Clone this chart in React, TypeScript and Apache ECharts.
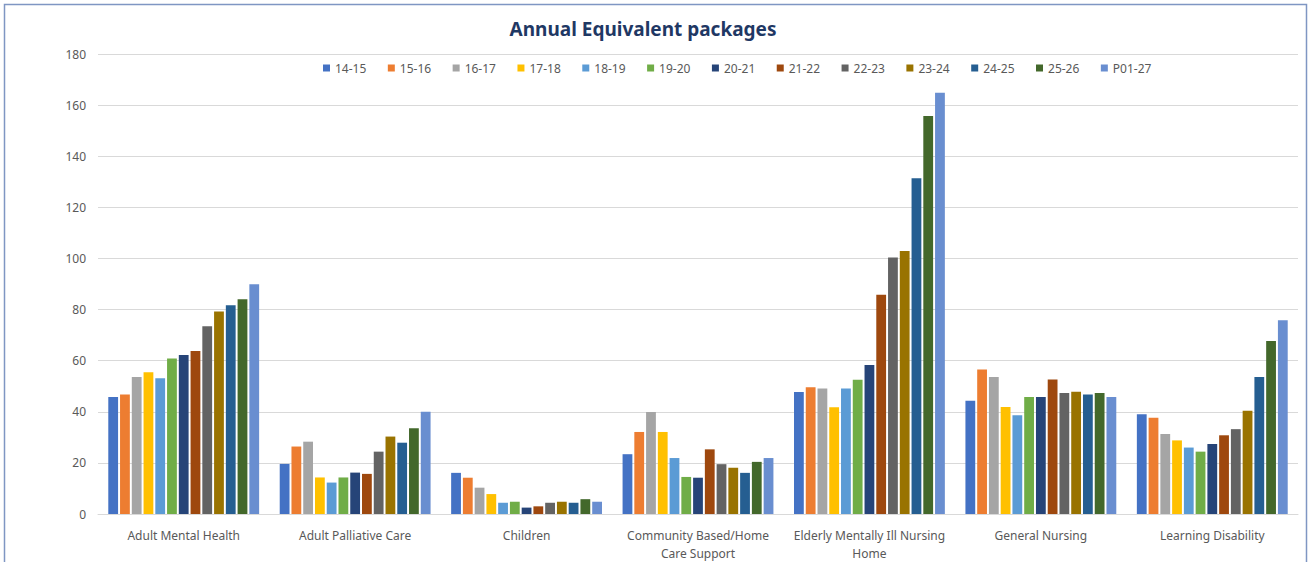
import React, { useEffect, useRef } from "react";
import * as echarts from "echarts";

// Service categories (line breaks where the axis labels wrap)
const categories = [
  "Adult Mental Health",
  "Adult Palliative Care",
  "Children",
  "Community Based/Home\nCare Support",
  "Elderly Mentally Ill Nursing\nHome",
  "General Nursing",
  "Learning Disability",
];

// Annual equivalent packages per financial year, in category order
const y1415 = [45.8, 19.6, 16.1, 23.4, 47.7, 44.3, 39.0];
const y1516 = [46.8, 26.4, 14.2, 32.1, 49.6, 56.5, 37.7];
const y1617 = [53.6, 28.3, 10.3, 39.9, 49.1, 53.6, 31.3];
const y1718 = [55.5, 14.3, 7.8, 32.1, 41.8, 41.9, 28.8];
const y1819 = [53.1, 12.3, 4.4, 21.9, 49.1, 38.6, 26.0];
const y1920 = [60.8, 14.3, 4.8, 14.5, 52.5, 45.8, 24.4];
const y2021 = [62.2, 16.2, 2.5, 14.2, 58.3, 45.8, 27.4];
const y2122 = [63.8, 15.7, 3.0, 25.3, 85.8, 52.6, 30.8];
const y2223 = [73.5, 24.4, 4.4, 19.5, 100.4, 47.3, 33.2];
const y2324 = [79.2, 30.3, 4.8, 18.1, 102.9, 47.8, 40.4];
const y2425 = [81.7, 27.9, 4.4, 16.1, 131.4, 46.8, 53.6];
const y2526 = [84.0, 33.6, 5.8, 20.4, 155.7, 47.3, 67.7];
const p0127 = [89.9, 40.0, 4.8, 21.9, 164.8, 45.8, 75.8];

const seriesNames = [
  "14-15", "15-16", "16-17", "17-18", "18-19", "19-20", "20-21",
  "21-22", "22-23", "23-24", "24-25", "25-26", "P01-27",
];
const seriesValues = [
  y1415, y1516, y1617, y1718, y1819, y1920, y2021,
  y2122, y2223, y2324, y2425, y2526, p0127,
];
const seriesColors = [
  "#4472C4", "#ED7D31", "#A5A5A5", "#FFC000", "#5B9BD5", "#70AD47", "#264478",
  "#9E480E", "#636363", "#997300", "#255E91", "#43682B", "#698ED0",
];

// Y axis range
const yMin = 0;
const yMax = 180;
const yStep = 20;

const FONT = "'Noto Sans', 'Open Sans', sans-serif";
const TEXT = "#595959";

export default function App() {
  const ref = useRef<HTMLDivElement>(null);

  useEffect(() => {
    if (!ref.current) return;
    const chart = echarts.init(ref.current, undefined, { renderer: "svg" });
    chart.setOption({
      animation: false,
      backgroundColor: "#ffffff",
      textStyle: { fontFamily: FONT },
      title: {
        text: "Annual Equivalent packages",
        left: 638,
        textAlign: "center",
        top: 14,
        textStyle: {
          fontFamily: FONT,
          fontSize: 19,
          fontWeight: "bold",
          color: "#1F3864",
        },
      },
      legend: {
        top: 62,
        left: 323,
        padding: 0,
        itemWidth: 7,
        itemHeight: 7,
        itemGap: 21.5,
        icon: "rect",
        textStyle: { fontFamily: FONT, fontSize: 12, color: TEXT },
        data: seriesNames,
      },
      graphic: [
        {
          type: "rect",
          shape: { x: 4.5, y: 4.5, width: 1302, height: 620 },
          style: { fill: "none", stroke: "#7F96C3", lineWidth: 1.5 },
          silent: true,
        },
      ],
      grid: { left: 98, right: 11, top: 54, bottom: 46, containLabel: false },
      xAxis: {
        type: "category",
        data: categories,
        axisLine: { lineStyle: { color: "#D9D9D9" } },
        axisTick: { show: false },
        axisLabel: {
          interval: 0,
          color: TEXT,
          fontFamily: FONT,
          fontSize: 12,
          margin: 12,
          lineHeight: 18,
        },
      },
      yAxis: {
        type: "value",
        min: yMin,
        max: yMax,
        interval: yStep,
        axisLine: { show: false },
        axisTick: { show: false },
        axisLabel: { color: TEXT, fontFamily: FONT, fontSize: 12, margin: 12 },
        splitLine: { lineStyle: { color: "#D9D9D9" } },
      },
      series: seriesNames.map((name, i) => ({
        name,
        type: "bar",
        data: seriesValues[i],
        itemStyle: { color: seriesColors[i] },
        barGap: "20%",
        barCategoryGap: "12%",
      })),
    });
    return () => chart.dispose();
  }, []);

  return (
    <div
      ref={ref}
      style={{
        position: "absolute",
        left: 0,
        top: 0,
        width: 1309,
        height: 562,
        background: "#ffffff",
      }}
    />
  );
}
